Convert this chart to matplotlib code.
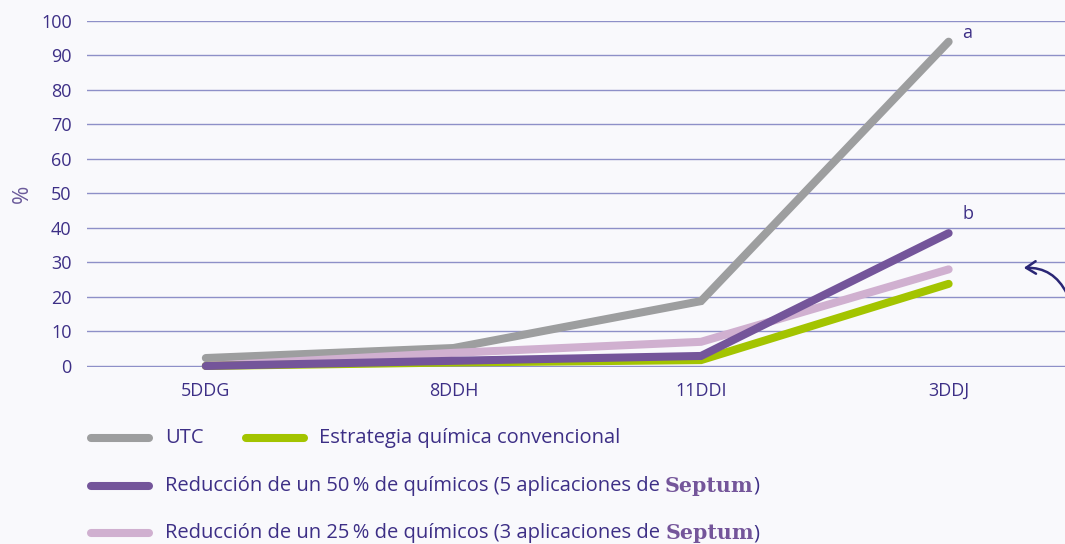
import matplotlib.pyplot as plt
from matplotlib.lines import Line2D

# Data
stages = ['5DDG', '8DDH', '11DDI', '3DDJ']
utc = [2.3, 5.2, 18.8, 94]
convencional = [0, 1.0, 1.7, 23.8]
red50 = [0, 1.5, 2.9, 38.5]
red25 = [0, 3.8, 7.0, 28]
letters = ['a', 'b']
letter_vals = [94, 38.5]
letter_offsets = [(10, 6.5), (10, 14)]

BG = '#f9f9fc'
GRID = '#8e90c8'
TXT = '#3d2f86'
C_UTC = '#9d9e9f'
C_CONV = '#a3c400'
C_50 = '#74559a'
C_25 = '#d0b0d0'

plt.rcParams['font.family'] = ['Open Sans', 'DejaVu Sans']

fig = plt.figure(figsize=(10.65, 5.44), dpi=100, facecolor=BG)
ax = fig.add_axes([87 / 1065, 1 - 367 / 544, 1 - 87 / 1065, (367 - 21) / 544])
ax.set_facecolor(BG)

x = range(len(stages))
lw = 5.8
for series, c, z in [(utc, C_UTC, 3), (red25, C_25, 4), (convencional, C_CONV, 5), (red50, C_50, 6)]:
    ax.plot(x, series, color=c, lw=lw, solid_capstyle='round', solid_joinstyle='miter',
            zorder=z, clip_on=False)

ax.set_xlim(-0.48, 3.47)
ax.set_ylim(-0.3, 100)
ax.set_yticks(range(0, 101, 10))
ax.set_xticks(list(x))
ax.set_xticklabels(stages)
ax.yaxis.grid(True, color=GRID, lw=1)
ax.set_axisbelow(True)
for s in ax.spines.values():
    s.set_visible(False)
ax.tick_params(length=0, colors=TXT, labelsize=13)
ax.tick_params(axis='x', pad=11)
ax.tick_params(axis='y', pad=11)
ax.set_ylabel('%', color='#6b5a9a', fontsize=16, labelpad=6)

for lab, v, off in zip(letters, letter_vals, letter_offsets):
    ax.annotate(lab, (3, v), xytext=off, textcoords='offset points',
                color=TXT, fontsize=13, va='center', ha='left')

# curved arrow on the right edge
ax.annotate('', xy=(1021 / 1065, 1 - 268 / 544), xycoords='figure fraction',
            xytext=(1068 / 1065, 1 - 296 / 544), textcoords='figure fraction',
            arrowprops=dict(arrowstyle='->,head_length=0.7,head_width=0.45', color='#2a2675',
                            lw=1.8, connectionstyle='arc3,rad=0.35'),
            annotation_clip=False)

# legend built by hand
W, H = 1065, 544


def legend_line(x0, y0, color):
    fig.add_artist(Line2D([x0 / W, (x0 + 58) / W], [1 - y0 / H, 1 - y0 / H], color=color,
                          lw=lw, solid_capstyle='round', transform=fig.transFigure))


def rich_text(x0, y0, parts):
    fig.canvas.draw()
    r = fig.canvas.get_renderer()
    xx = x0 / W
    for s, kw in parts:
        t = fig.text(xx, 1 - y0 / H, s, va='center', ha='left', **kw)
        bb = t.get_window_extent(renderer=r)
        xx = bb.x1 / W


base = dict(color=TXT, fontsize=14.5)
bold = dict(color=C_50, fontsize=14.8, family='DejaVu Serif', weight='bold')

legend_line(91, 438, C_UTC)
rich_text(165, 438, [('UTC', base)])
legend_line(246, 438, C_CONV)
rich_text(319, 438, [('Estrategia química convencional', base)])

legend_line(91, 486, C_50)
rich_text(165, 486, [('Reducción de un 50\u2009% de químicos (5 aplicaciones de ', base),
                     ('Septum', bold), (')', base)])
legend_line(91, 533, C_25)
rich_text(165, 533, [('Reducción de un 25\u2009% de químicos (3 aplicaciones de ', base),
                     ('Septum', bold), (')', base)])

fig.savefig('out.png', dpi=100, facecolor=BG)
